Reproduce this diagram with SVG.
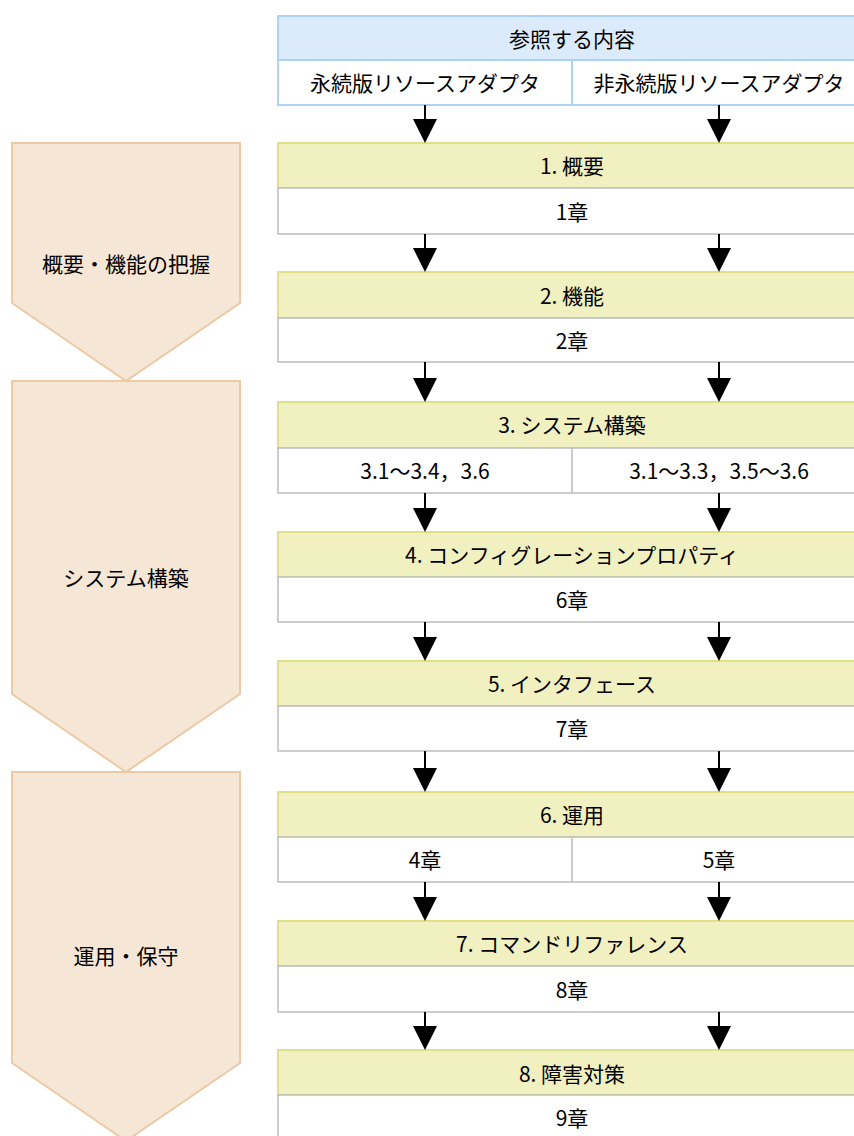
<svg xmlns="http://www.w3.org/2000/svg" width="854" height="1136" viewBox="0 0 854 1136">
<style>
text{font-family:"Noto Sans CJK JP","Noto Sans",sans-serif;font-size:21px;fill:#000;text-anchor:middle;dominant-baseline:central}
.chev{fill:#f6e6d6;stroke:#eccaa6;stroke-width:2}
.hd{fill:#dcebfb;stroke:#acd2f6;stroke-width:2}
.hw{fill:#fff;stroke:#acd2f6;stroke-width:2}
.ye{fill:#f1f0c0;stroke:#e0e088;stroke-width:2}
.wh{fill:#fff;stroke:#bdbdbd;stroke-width:1.5}
.ln{stroke:#000;stroke-width:2;fill:none}
</style>
<rect width="854" height="1136" fill="#fff"/>
<g id="phase1"><polygon class="chev" points="12,143 240,143 240,303 126,381 12,303"/><text x="126" y="263">概要・機能の把握</text></g>
<g id="phase2"><polygon class="chev" points="12,381 240,381 240,694 126,772 12,694"/><text x="126" y="577">システム構築</text></g>
<g id="phase3"><polygon class="chev" points="12,772 240,772 240,1063 126,1141 12,1063"/><text x="126" y="955">運用・保守</text></g>
<g id="header">
<rect class="hd" x="278" y="16" width="590" height="44"/>
<text x="572" y="38">参照する内容</text>
<rect class="hw" x="278" y="60" width="590" height="45"/>
<line x1="572" y1="60" x2="572" y2="105" stroke="#acd2f6" stroke-width="2"/>
<text x="425" y="82">永続版リソースアダプタ</text>
<text x="719" y="82">非永続版リソースアダプタ</text>
</g>
<g id="step1"><rect class="ye" x="278" y="143" width="590" height="45"/><text x="572" y="165">1. 概要</text><rect class="wh" x="278" y="188" width="590" height="46"/><text x="572" y="211">1章</text></g>
<g id="step2"><rect class="ye" x="278" y="272" width="590" height="46"/><text x="572" y="295">2. 機能</text><rect class="wh" x="278" y="318" width="590" height="44"/><text x="572" y="340">2章</text></g>
<g id="step3"><rect class="ye" x="278" y="402" width="590" height="46"/><text x="572" y="424">3. システム構築</text><rect class="wh" x="278" y="448" width="590" height="45"/><line x1="572" y1="448" x2="572" y2="493" stroke="#bdbdbd" stroke-width="1.5"/><text x="425" y="470">3.1～3.4，3.6</text><text x="719" y="470">3.1～3.3，3.5～3.6</text></g>
<g id="step4"><rect class="ye" x="278" y="532" width="590" height="45"/><text x="572" y="554">4. コンフィグレーションプロパティ</text><rect class="wh" x="278" y="577" width="590" height="45"/><text x="572" y="599">6章</text></g>
<g id="step5"><rect class="ye" x="278" y="661" width="590" height="45"/><text x="572" y="683">5. インタフェース</text><rect class="wh" x="278" y="706" width="590" height="45"/><text x="572" y="728">7章</text></g>
<g id="step6"><rect class="ye" x="278" y="792" width="590" height="45"/><text x="572" y="814">6. 運用</text><rect class="wh" x="278" y="837" width="590" height="45"/><line x1="572" y1="837" x2="572" y2="882" stroke="#bdbdbd" stroke-width="1.5"/><text x="425" y="859">4章</text><text x="719" y="859">5章</text></g>
<g id="step7"><rect class="ye" x="278" y="921" width="590" height="45"/><text x="572" y="943">7. コマンドリファレンス</text><rect class="wh" x="278" y="966" width="590" height="46"/><text x="572" y="989">8章</text></g>
<g id="step8"><rect class="ye" x="278" y="1050" width="590" height="45"/><text x="572" y="1073">8. 障害対策</text><rect class="wh" x="278" y="1095" width="590" height="50"/><text x="572" y="1117">9章</text></g>
<g id="connectors">
<g class="ln">
<path d="M425 105V120M719 105V120M425 234V248M719 234V248M425 362V378M719 362V378M425 493V508M719 493V508M425 622V637M719 622V637M425 751V768M719 751V768M425 882V897M719 882V897M425 1012V1026M719 1012V1026"/>
</g>
<g fill="#000">
<polygon points="413,119 437,119 425,143"/><polygon points="707,119 731,119 719,143"/>
<polygon points="413,248 437,248 425,272"/><polygon points="707,248 731,248 719,272"/>
<polygon points="413,378 437,378 425,402"/><polygon points="707,378 731,378 719,402"/>
<polygon points="413,508 437,508 425,532"/><polygon points="707,508 731,508 719,532"/>
<polygon points="413,637 437,637 425,661"/><polygon points="707,637 731,637 719,661"/>
<polygon points="413,768 437,768 425,792"/><polygon points="707,768 731,768 719,792"/>
<polygon points="413,897 437,897 425,921"/><polygon points="707,897 731,897 719,921"/>
<polygon points="413,1026 437,1026 425,1050"/><polygon points="707,1026 731,1026 719,1050"/>
</g>
</g>
</svg>
